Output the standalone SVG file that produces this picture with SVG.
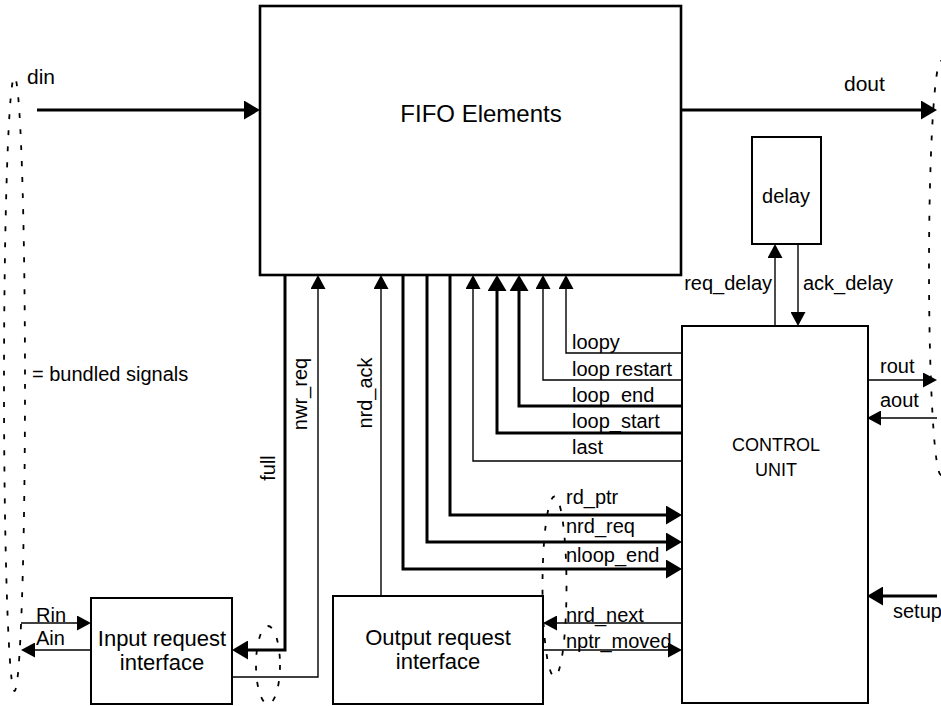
<svg xmlns="http://www.w3.org/2000/svg" width="941" height="706" viewBox="0 0 941 706">
<style>
  text { font-family: "Liberation Sans", Arial, Helvetica, sans-serif; fill: #000; }
  .lbl { font-size: 20px; }
  .big { font-size: 22px; }
  .cu { font-size: 18px; }
  .box { fill: #fff; stroke: #000; stroke-width: 2; }
  .thin { fill: none; stroke: #000; stroke-width: 1.4; }
  .thick { fill: none; stroke: #000; stroke-width: 3; }
  .bundle { fill: none; stroke: #000; stroke-width: 1.8; stroke-dasharray: 5 11; }
</style>
<defs>
  <marker id="aThin" markerUnits="userSpaceOnUse" markerWidth="14" markerHeight="15" refX="7" refY="7.5" orient="auto">
    <path d="M0,0 L14,7.5 L0,15 z" fill="#000"/>
  </marker>
  <marker id="aThick" markerUnits="userSpaceOnUse" markerWidth="16" markerHeight="19" refX="8" refY="9.5" orient="auto">
    <path d="M0,0 L16,9.5 L0,19 z" fill="#000"/>
  </marker>
</defs>
<rect width="941" height="706" fill="#fff"/>

<g id="bundles">
  <ellipse class="bundle" cx="14.5" cy="384" rx="10.5" ry="307"/>
  <ellipse class="bundle" cx="941" cy="268" rx="12" ry="207"/>
  <ellipse class="bundle" cx="268" cy="665" rx="12" ry="39"/>
  <ellipse class="bundle" cx="554.5" cy="586.5" rx="12" ry="90"/>
</g>

<g id="fifo">
  <rect x="260" y="6" width="421" height="269" fill="#fff" stroke="#000" stroke-width="2.6"/>
  <text x="481" y="122" text-anchor="middle" style="font-size:24px">FIFO Elements</text>
</g>

<g id="delay">
  <rect class="box" x="752" y="137" width="69" height="107"/>
  <text class="lbl" x="786" y="203" text-anchor="middle">delay</text>
</g>

<g id="control-unit">
  <rect class="box" x="682" y="326" width="186" height="377"/>
  <text class="cu" x="776" y="451" text-anchor="middle">CONTROL</text>
  <text class="cu" x="776" y="476" text-anchor="middle">UNIT</text>
</g>

<g id="input-request-interface">
  <rect class="box" x="91" y="598" width="141" height="106"/>
  <text class="big" x="162" y="646" text-anchor="middle">Input request</text>
  <text class="big" x="162" y="670" text-anchor="middle">interface</text>
</g>

<g id="output-request-interface">
  <rect class="box" x="333" y="596" width="210" height="108"/>
  <text class="big" x="438" y="645" text-anchor="middle">Output request</text>
  <text class="big" x="438" y="669" text-anchor="middle">interface</text>
</g>

<g id="connectors">
  <path class="thick" d="M37,110 H252" marker-end="url(#aThick)"/>
  <path class="thick" d="M681,110 H929" marker-end="url(#aThick)"/>
  <path class="thick" d="M285,275 V650 H240" marker-end="url(#aThick)"/>
  <path class="thin" d="M232,677 H318 V282" marker-end="url(#aThin)"/>
  <path class="thin" d="M381,596 V282" marker-end="url(#aThin)"/>
  <path class="thick" d="M403,275 V569 H674" marker-end="url(#aThick)"/>
  <path class="thick" d="M427,275 V542 H674" marker-end="url(#aThick)"/>
  <path class="thick" d="M450,275 V515 H674" marker-end="url(#aThick)"/>
  <path class="thin" d="M682,461 H473 V282" marker-end="url(#aThin)"/>
  <path class="thick" d="M682,433 H497 V283" marker-end="url(#aThick)"/>
  <path class="thick" d="M682,406 H519 V283" marker-end="url(#aThick)"/>
  <path class="thin" d="M682,380 H543 V282" marker-end="url(#aThin)"/>
  <path class="thin" d="M682,353 H566 V282" marker-end="url(#aThin)"/>
  <path class="thin" d="M775,326 V251" marker-end="url(#aThin)"/>
  <path class="thin" d="M798,244 V319" marker-end="url(#aThin)"/>
  <path class="thin" d="M867,380 H930" marker-end="url(#aThin)"/>
  <path class="thin" d="M937,418 H874" marker-end="url(#aThin)"/>
  <path class="thick" d="M937,596 H875" marker-end="url(#aThick)"/>
  <path class="thin" d="M682,623 H550" marker-end="url(#aThin)"/>
  <path class="thin" d="M543,650 H675" marker-end="url(#aThin)"/>
  <path class="thin" d="M21,623 H84" marker-end="url(#aThin)"/>
  <path class="thin" d="M91,650 H28" marker-end="url(#aThin)"/>
</g>

<g id="labels">
  <text class="lbl" x="27" y="84" style="font-size:21px">din</text>
  <text class="lbl" x="844" y="91" style="font-size:21px">dout</text>
  <text class="lbl" x="32" y="381">= bundled signals</text>
  <text class="lbl" x="36" y="622">Rin</text>
  <text class="lbl" x="36" y="645">Ain</text>
  <text class="lbl" transform="translate(275,468) rotate(-90)" text-anchor="middle">full</text>
  <text class="lbl" transform="translate(307,394) rotate(-90)" text-anchor="middle">nwr_req</text>
  <text class="lbl" transform="translate(372,393) rotate(-90)" text-anchor="middle">nrd_ack</text>
  <text class="lbl" x="572" y="349">loopy</text>
  <text class="lbl" x="572" y="376">loop restart</text>
  <text class="lbl" x="572" y="402">loop_end</text>
  <text class="lbl" x="572" y="428">loop_start</text>
  <text class="lbl" x="572" y="454">last</text>
  <text class="lbl" x="566" y="504">rd_ptr</text>
  <text class="lbl" x="566" y="533">nrd_req</text>
  <text class="lbl" x="566" y="562">nloop_end</text>
  <text class="lbl" x="566" y="622">nrd_next</text>
  <text class="lbl" x="566" y="648">nptr_moved</text>
  <text class="lbl" x="772" y="290" text-anchor="end">req_delay</text>
  <text class="lbl" x="803" y="290">ack_delay</text>
  <text class="lbl" x="880" y="373">rout</text>
  <text class="lbl" x="880" y="407">aout</text>
  <text class="lbl" x="893" y="618">setup</text>
</g>
</svg>
